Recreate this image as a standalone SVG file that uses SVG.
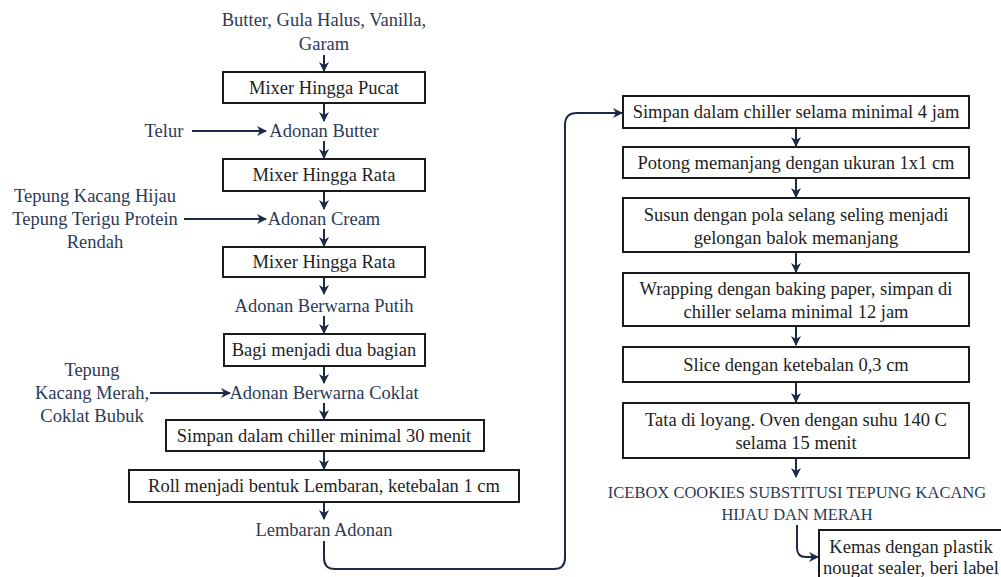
<svg xmlns="http://www.w3.org/2000/svg" width="1001" height="577" viewBox="0 0 1001 577">
<style>
.box{fill:#fff;stroke:#1b1b1b;stroke-width:2}
.bt{font-family:"Liberation Serif","DejaVu Serif",serif;font-size:18.5px;fill:#1e1e1e;text-anchor:middle}
.lb{font-family:"Liberation Serif","DejaVu Serif",serif;font-size:18.5px;fill:#2c3a58;text-anchor:middle}
.cap{font-size:16.5px}
.c{fill:none;stroke:#1c2a48;stroke-width:2;marker-end:url(#ah)}
</style>
<defs>
<marker id="ah" viewBox="0 0 10 10" refX="9" refY="5" markerWidth="5" markerHeight="5" markerUnits="strokeWidth" orient="auto">
<path d="M0,0 L10,5 L0,10 L3,5 Z" fill="#1c2a48"/>
</marker>
</defs>
<rect width="1001" height="577" fill="#fff"/>
<g id="connectors">
<path class="c" d="M324,55 V71"/>
<path class="c" d="M324,103 V121"/>
<path class="c" d="M324,141 V158"/>
<path class="c" d="M324,191 V209"/>
<path class="c" d="M324,229 V246"/>
<path class="c" d="M324,277 V294"/>
<path class="c" d="M324,316 V333"/>
<path class="c" d="M324,367 V383"/>
<path class="c" d="M324,403 V419"/>
<path class="c" d="M324,451 V469"/>
<path class="c" d="M324,502 V519"/>
<path class="c" d="M192,131 H266"/>
<path class="c" d="M184,219 H266"/>
<path class="c" d="M150,393 H230"/>
<path class="c" d="M324,541 V558 Q324,569 335,569 H554 Q565,569 565,558 V125 Q565,113 577,113 H622"/>
<path class="c" d="M796,128 V146"/>
<path class="c" d="M796,178 V197"/>
<path class="c" d="M796,252 V272"/>
<path class="c" d="M796,326 V345"/>
<path class="c" d="M796,382 V402"/>
<path class="c" d="M796,458 V477"/>
<path class="c" d="M797,525 V548 Q797,557 806,557 H818"/>
</g>
<g id="n-input1"><text class="lb" x="324" y="26">Butter, Gula Halus, Vanilla,</text><text class="lb" x="324" y="50">Garam</text></g>
<g id="n-mixer-pucat"><rect class="box" x="223" y="72" width="202" height="31"/><text class="bt" x="324" y="94">Mixer Hingga Pucat</text></g>
<g id="n-telur"><text class="lb" x="164" y="137">Telur</text></g>
<g id="n-adonan-butter"><text class="lb" x="324" y="137">Adonan Butter</text></g>
<g id="n-mixer-rata1"><rect class="box" x="223" y="159" width="202" height="32"/><text class="bt" x="324" y="181">Mixer Hingga Rata</text></g>
<g id="n-tepung1"><text class="lb" x="95" y="202">Tepung Kacang Hijau</text><text class="lb" x="95" y="225">Tepung Terigu Protein</text><text class="lb" x="95" y="248">Rendah</text></g>
<g id="n-adonan-cream"><text class="lb" x="324" y="225">Adonan Cream</text></g>
<g id="n-mixer-rata2"><rect class="box" x="223" y="247" width="202" height="30"/><text class="bt" x="324" y="268">Mixer Hingga Rata</text></g>
<g id="n-putih"><text class="lb" x="324" y="312">Adonan Berwarna Putih</text></g>
<g id="n-bagi"><rect class="box" x="224" y="334" width="201" height="32"/><text class="bt" x="324" y="356">Bagi menjadi dua bagian</text></g>
<g id="n-tepung2"><text class="lb" x="92" y="376">Tepung</text><text class="lb" x="92" y="399">Kacang Merah,</text><text class="lb" x="92" y="422">Coklat Bubuk</text></g>
<g id="n-coklat"><text class="lb" x="324" y="399">Adonan Berwarna Coklat</text></g>
<g id="n-simpan30"><rect class="box" x="166" y="420" width="318" height="31"/><text class="bt" x="324" y="442">Simpan dalam chiller minimal 30 menit</text></g>
<g id="n-roll"><rect class="box" x="129" y="470" width="390" height="32"/><text class="bt" x="324" y="492">Roll menjadi bentuk Lembaran, ketebalan 1 cm</text></g>
<g id="n-lembaran"><text class="lb" x="324" y="536">Lembaran Adonan</text></g>
<g id="n-simpan4"><rect class="box" x="623" y="96" width="346" height="32"/><text class="bt" x="796" y="118">Simpan dalam chiller selama minimal 4 jam</text></g>
<g id="n-potong"><rect class="box" x="623" y="147" width="346" height="31"/><text class="bt" x="796" y="169">Potong memanjang dengan ukuran 1x1 cm</text></g>
<g id="n-susun"><rect class="box" x="623" y="198" width="346" height="54"/><text class="bt" x="796" y="221">Susun dengan pola selang seling menjadi</text><text class="bt" x="796" y="244">gelongan balok memanjang</text></g>
<g id="n-wrapping"><rect class="box" x="623" y="273" width="346" height="53"/><text class="bt" x="796" y="295">Wrapping dengan baking paper, simpan di</text><text class="bt" x="796" y="318">chiller selama minimal 12 jam</text></g>
<g id="n-slice"><rect class="box" x="623" y="347" width="346" height="35"/><text class="bt" x="796" y="371">Slice dengan ketebalan 0,3 cm</text></g>
<g id="n-tata"><rect class="box" x="623" y="403" width="346" height="55"/><text class="bt" x="796" y="426">Tata di loyang. Oven dengan suhu 140 C</text><text class="bt" x="796" y="449">selama 15 menit</text></g>
<g id="n-icebox"><text class="lb cap" x="797" y="498">ICEBOX COOKIES SUBSTITUSI TEPUNG KACANG</text><text class="lb cap" x="797" y="520">HIJAU DAN MERAH</text></g>
<g id="n-kemas"><rect class="box" x="819" y="530" width="200" height="60"/><text class="bt" x="911" y="553">Kemas dengan plastik</text><text class="bt" x="911" y="574">nougat sealer, beri label</text></g>
</svg>
